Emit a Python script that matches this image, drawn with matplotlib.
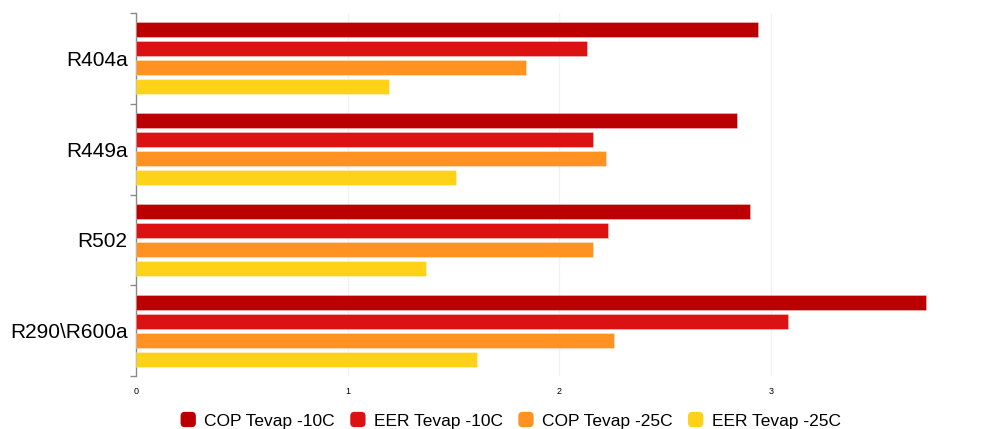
import numpy as np
import matplotlib.pyplot as plt
from matplotlib.patches import FancyBboxPatch
from matplotlib.legend_handler import HandlerPatch

plt.rcParams['font.family'] = ['Liberation Sans', 'DejaVu Sans']

refrigerants = ["R404a", "R449a", "R502", "R290\\R600a"]
series_names = ["COP Tevap -10C", "EER Tevap -10C", "COP Tevap -25C", "EER Tevap -25C"]
cop_10 = [2.94, 2.84, 2.90, 3.73]
eer_10 = [2.13, 2.16, 2.23, 3.08]
cop_25 = [1.84, 2.22, 2.16, 2.26]
eer_25 = [1.195, 1.51, 1.37, 1.61]
xticks = [0, 1, 2, 3]

colors = ["#BA0000", "#DC1212", "#FF9220", "#FFD21A"]
series = [cop_10, eer_10, cop_25, eer_25]

fig = plt.figure(figsize=(9.82, 4.29), dpi=100)
ax = fig.add_axes([136 / 982, 1 - 376 / 429, (968 - 136) / 982, (376 - 13) / 429])

n = len(refrigerants)
centers = np.arange(n)
pitch = 0.21
height = 0.165
handles = []
for i, (vals, col, name) in enumerate(zip(series, colors, series_names)):
    y = centers + (i - 1.5) * pitch
    b = ax.barh(y, vals, height=height, color=col, edgecolor=(1, 1, 1, 0.35),
                linewidth=0.6, label=name, zorder=3)
    handles.append(b)

ax.set_ylim(n - 0.5, -0.5)
ax.set_xlim(0, (968 - 136) / 211.7)
ax.set_yticks(centers)
ax.set_yticklabels(refrigerants, fontsize=15)
ax.set_yticks(np.arange(n + 1) - 0.5, minor=True)
ax.tick_params(axis='y', which='major', length=0, pad=6)
ax.tick_params(axis='y', which='minor', length=4, color="#8a8a8a", width=1)
ax.set_xticks(xticks)
ax.set_xticklabels([str(t) for t in xticks], fontsize=6.5)
ax.tick_params(axis='x', length=0, pad=8)
ax.xaxis.grid(True, color="#f2f2f2", linewidth=1, zorder=0)
for s in ["top", "right", "bottom"]:
    ax.spines[s].set_visible(False)
ax.spines["left"].set_color("#8a8a8a")
ax.spines["left"].set_linewidth(1)


class RoundHandler(HandlerPatch):
    def create_artists(self, legend, orig_handle, xdescent, ydescent, width, height, fontsize, trans):
        s = 11
        p = FancyBboxPatch((xdescent + 1, ydescent + height / 2 - s / 2), s, s,
                           boxstyle="round,pad=0,rounding_size=3",
                           facecolor=orig_handle.patches[0].get_facecolor(),
                           edgecolor="none", transform=trans)
        return [p]


fig.legend(handles=handles, labels=series_names, loc="center",
           bbox_to_anchor=(510 / 982, 1 - 421 / 429), ncol=4, frameon=False,
           fontsize=12.5, handler_map={h: RoundHandler() for h in handles},
           handlelength=1.0, handletextpad=0.45, columnspacing=0.8)

fig.savefig("out.png", dpi=100)
